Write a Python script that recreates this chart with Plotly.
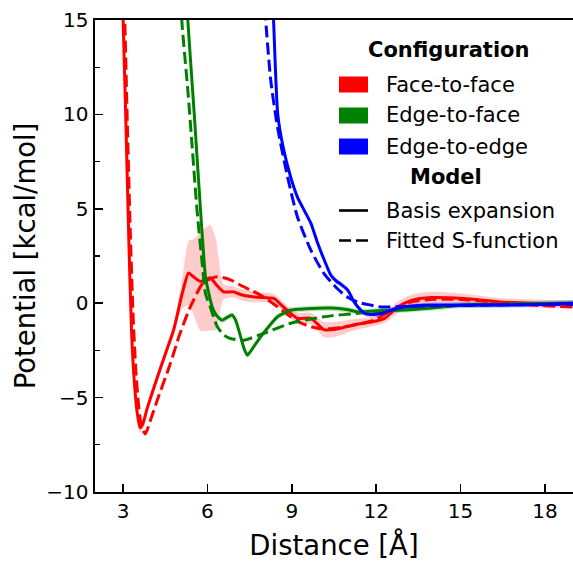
import plotly.graph_objects as go

# ---------------- data ----------------
# Face-to-face, basis expansion
ff_x = [2.95, 3.0, 3.1, 3.2, 3.3, 3.4, 3.5, 3.6, 3.7, 3.85, 4.0, 4.2, 4.5, 4.8, 5.1, 5.33, 5.5,
        5.75, 6.1, 6.3, 6.57, 6.93, 7.2, 7.54, 8.0, 8.36, 8.7, 9.2, 9.68, 10.14, 10.5, 11.2,
        11.8, 12.3, 12.77, 13.25, 13.96, 15.1, 16.4, 17.5, 19.0]
ff_y = [17.5, 15.0, 9.5, 3.5, -1.5, -4.2, -5.8, -6.6, -6.4, -5.6, -4.9, -4.0, -2.7, -1.4, 0.5,
        1.6, 1.4, 1.15, 1.35, 1.0, 0.6, 0.6, 0.45, 0.35, 0.3, 0.25, -0.2, -0.8, -0.8, -1.4,
        -1.4, -1.15, -1.0, -0.8, -0.2, 0.15, 0.3, 0.25, 0.07, 0.0, -0.05]
ff_err = [0.25, 0.25, 0.25, 0.25, 0.25, 0.25, 0.25, 0.25, 0.25, 0.25, 0.25, 0.25, 0.25, 0.3, 0.8,
          1.7, 2.0, 2.6, 2.8, 2.4, 0.4, 0.3, 0.3, 0.3, 0.25, 0.25, 0.25, 0.3, 0.3, 0.4,
          0.4, 0.3, 0.25, 0.25, 0.3, 0.3, 0.3, 0.25, 0.2, 0.2, 0.2]
# Face-to-face, fitted S-function
ff_fit_x = [3.0, 3.05, 3.15, 3.25, 3.35, 3.45, 3.55, 3.65, 3.79, 3.95, 4.2, 4.68, 5.0, 5.39, 5.86,
            6.35, 6.8, 7.18, 7.6, 8.0, 8.5, 8.96, 9.4, 9.92, 10.4, 10.86, 11.4, 11.93, 12.54,
            13.2, 13.96, 15.0, 16.1, 17.5, 19.0]
ff_fit_y = [17.5, 15.5, 9.5, 4.0, -0.5, -3.5, -5.4, -6.5, -6.93, -6.3, -5.2, -3.2, -1.7, -0.2,
            1.1, 1.4, 1.25, 0.95, 0.65, 0.33, -0.2, -0.72, -1.1, -1.33, -1.35, -1.25, -1.1,
            -0.9, -0.37, 0.05, 0.2, 0.2, 0.07, -0.1, -0.2]

# Edge-to-face, basis expansion
ef_x = [5.25, 5.3, 5.53, 5.75, 5.93, 6.05, 6.17, 6.3, 6.52, 6.7, 6.88, 7.0, 7.18, 7.3, 7.42, 7.6,
        7.89, 8.2, 8.49, 8.96, 9.5, 10.4, 11.0, 11.35, 12.0, 12.8, 14.0, 15.1, 16.5, 18.7, 19.0]
ef_y = [16.5, 15.0, 10.0, 5.0, 1.4, 0.5, -0.2, -0.6, -0.9, -0.75, -0.63, -0.9, -1.78, -2.4,
        -2.75, -2.4, -1.78, -1.2, -0.72, -0.37, -0.3, -0.26, -0.35, -0.46, -0.4, -0.37, -0.25,
        -0.1, -0.05, 0.0, 0.0]
ef_err = [0.15] * len(ef_x)
# Edge-to-face, fitted S-function
ef_fit_x = [5.05, 5.1, 5.3, 5.45, 5.63, 5.8, 5.93, 6.1, 6.35, 6.6, 6.82, 7.29, 8.0, 8.96, 10.14,
            11.35, 12.5, 13.5, 15.0, 17.0, 19.0]
ef_fit_y = [16.0, 14.7, 11.3, 8.4, 4.9, 2.3, 0.5, -0.2, -1.25, -1.7, -1.87, -1.96, -1.6, -1.06,
            -0.72, -0.53, -0.37, -0.25, -0.12, -0.05, -0.02]

# Edge-to-edge, basis expansion
ee_x = [8.3, 8.35, 8.5, 8.7, 8.96, 9.2, 9.44, 9.68, 9.92, 10.15, 10.39, 10.6, 10.75, 10.99, 11.2,
        11.35, 11.58, 11.8, 12.18, 12.54, 13.0, 13.96, 15.0, 16.4, 18.0, 19.0]
ee_y = [16.5, 15.0, 10.0, 8.2, 6.68, 5.62, 4.92, 4.23, 3.17, 2.3, 1.48, 1.15, 1.0, 0.69, 0.1,
        -0.2, -0.53, -0.6, -0.55, -0.37, -0.2, -0.1, -0.1, -0.1, -0.05, 0.0]
ee_err = [0.15] * len(ee_x)
# Edge-to-edge, fitted S-function
ee_fit_x = [8.0, 8.07, 8.25, 8.49, 8.85, 9.2, 9.68, 10.14, 10.63, 11.0, 11.35, 11.8, 12.18, 13.0,
            14.0, 16.0, 19.0]
ee_fit_y = [16.5, 15.0, 11.8, 9.33, 6.68, 4.57, 2.8, 1.58, 0.75, 0.3, 0.05, -0.1, -0.2, -0.18,
            -0.15, -0.1, -0.05]

config_names = ["Face-to-face", "Edge-to-face", "Edge-to-edge"]
model_names = ["Basis expansion", "Fitted S-function"]
colors = ["#ff0000", "#008000", "#0000ff"]
band_colors = ["rgba(255,0,0,0.2)", "rgba(0,128,0,0.2)", "rgba(0,0,255,0.2)"]

x_ticks = [3, 6, 9, 12, 15, 18]
y_ticks = [-10, -5, 0, 5, 10, 15]

# ---------------- figure ----------------
W, H = 573, 561
ML, MR, MT, MB = 95, 0, 20, 69
FONT = "DejaVu Sans"
LW = 3.0
DASH = "12px,5px"

fig = go.Figure()

series = [
    (ff_x, ff_y, ff_err, ff_fit_x, ff_fit_y),
    (ef_x, ef_y, ef_err, ef_fit_x, ef_fit_y),
    (ee_x, ee_y, ee_err, ee_fit_x, ee_fit_y),
]

# uncertainty bands
for (x, y, e, _, _), bc in zip(series, band_colors):
    fig.add_trace(go.Scatter(x=x, y=[a - b for a, b in zip(y, e)], mode="lines",
                             line=dict(width=0, shape="spline", smoothing=0.6),
                             showlegend=False, hoverinfo="skip"))
    fig.add_trace(go.Scatter(x=x, y=[a + b for a, b in zip(y, e)], mode="lines",
                             line=dict(width=0, shape="spline", smoothing=0.6),
                             fill="tonexty", fillcolor=bc,
                             showlegend=False, hoverinfo="skip"))

# curves
for (x, y, e, fx, fy), c, n in zip(series, colors, config_names):
    fig.add_trace(go.Scatter(x=x, y=y, mode="lines", name=n + " basis",
                             line=dict(color=c, width=LW, shape="spline", smoothing=0.6),
                             showlegend=False))
    fig.add_trace(go.Scatter(x=fx, y=fy, mode="lines", name=n + " fit",
                             line=dict(color=c, width=LW, dash=DASH, shape="spline",
                                       smoothing=0.6),
                             showlegend=False))

# ---------------- manual legend (matplotlib-like) ----------------
PW = W - ML - MR
PH = H - MT - MB


def px2x(p):
    return (p - ML) / PW


def py2y(p):
    return (H - MB - p) / PH


annotations = []
shapes = []
LEG_FS = 21
annotations.append(dict(x=px2x(448), y=py2y(50), xref="paper", yref="paper",
                        text="<b>Configuration</b>", showarrow=False,
                        xanchor="center", yanchor="middle",
                        font=dict(family=FONT, size=LEG_FS, color="black")))
row_y = [84.5, 115.5, 146.5]
for name, c, ry in zip(config_names, colors, row_y):
    shapes.append(dict(type="rect", xref="paper", yref="paper",
                       x0=px2x(339), x1=px2x(368), y0=py2y(ry - 8), y1=py2y(ry + 8),
                       fillcolor=c, line=dict(width=0)))
    annotations.append(dict(x=px2x(384), y=py2y(ry), xref="paper", yref="paper",
                            text=name, showarrow=False, xanchor="left", yanchor="middle",
                            font=dict(family=FONT, size=LEG_FS, color="black")))
annotations.append(dict(x=px2x(446), y=py2y(177), xref="paper", yref="paper",
                        text="<b>Model</b>", showarrow=False,
                        xanchor="center", yanchor="middle",
                        font=dict(family=FONT, size=LEG_FS, color="black")))
for name, dash, ry in zip(model_names, ["solid", DASH], [210.5, 240.5]):
    shapes.append(dict(type="line", xref="paper", yref="paper",
                       x0=px2x(339), x1=px2x(368), y0=py2y(ry), y1=py2y(ry),
                       line=dict(color="black", width=2.6, dash=dash)))
    annotations.append(dict(x=px2x(384), y=py2y(ry), xref="paper", yref="paper",
                            text=name, showarrow=False, xanchor="left", yanchor="middle",
                            font=dict(family=FONT, size=LEG_FS, color="black")))

axis_common = dict(showline=True, linecolor="black", linewidth=1.6, ticks="inside",
                   tickcolor="black", tickwidth=1.6, ticklen=8, showgrid=False,
                   zeroline=False, automargin=False,
                   tickfont=dict(family=FONT, size=20, color="black"))

fig.update_layout(
    width=W, height=H,
    margin=dict(l=ML, r=MR, t=MT, b=MB, pad=0, autoexpand=False),
    paper_bgcolor="white", plot_bgcolor="white",
    showlegend=False,
    font=dict(family=FONT, color="black"),
    xaxis=dict(range=[2, 19], tickvals=x_ticks, mirror=True,
               title=dict(text="Distance [Å]", font=dict(family=FONT, size=27.5, color="black"),
                          standoff=14),
               ticklabelstandoff=0, **axis_common),
    yaxis=dict(range=[-10, 15], tickvals=y_ticks,
               minor=dict(ticks="inside", ticklen=5, tickwidth=1.4, tickcolor="black",
                          dtick=2.5, tick0=0, showgrid=False),
               title=dict(text="Potential [kcal/mol]",
                          font=dict(family=FONT, size=27.5, color="black"), standoff=2),
               ticklabelstandoff=1, **axis_common),
    annotations=annotations,
    shapes=shapes,
)

# remove the default 8px page margin so the figure sits at the window's top-left corner
fig.write_html("out.html",
               config={"displayModeBar": False, "staticPlot": True},
               post_script="document.body.style.margin='0';document.body.style.overflow='hidden';")
